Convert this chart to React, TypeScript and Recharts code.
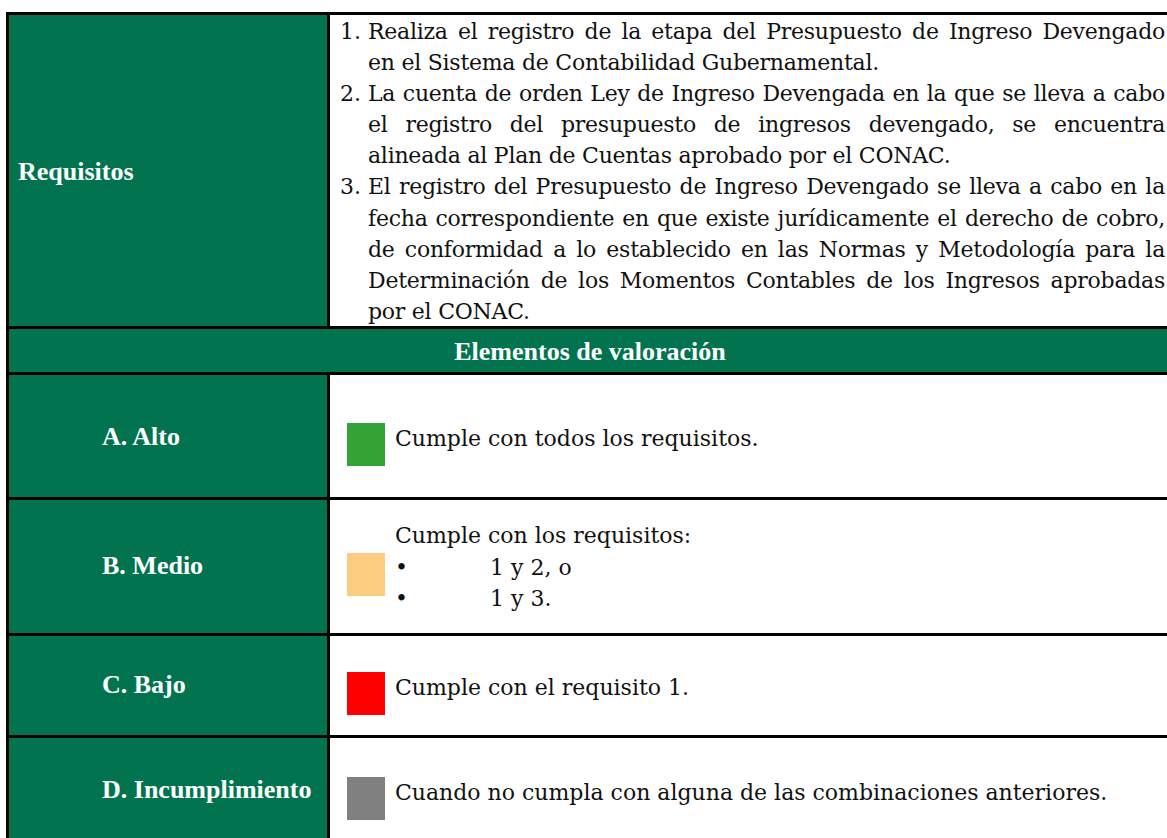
import React from "react";
import { Surface, Rectangle, Text } from "recharts";

const SECTION_TITLE = "Requisitos";
const HEADER_TITLE = "Elementos de valoración";

const REQ_NUMBERS = ["1.", "2.", "3."];
const REQ_LINES = [
  [
    "Realiza el registro de la etapa del Presupuesto de Ingreso Devengado",
    "en el Sistema de Contabilidad Gubernamental.",
  ],
  [
    "La cuenta de orden Ley de Ingreso Devengada en la que se lleva a cabo",
    "el registro del presupuesto de ingresos devengado, se encuentra",
    "alineada al Plan de Cuentas aprobado por el CONAC.",
  ],
  [
    "El registro del Presupuesto de Ingreso Devengado se lleva a cabo en la",
    "fecha correspondiente en que existe jurídicamente el derecho de cobro,",
    "de conformidad a lo establecido en las Normas y Metodología para la",
    "Determinación de los Momentos Contables de los Ingresos aprobadas",
    "por el CONAC.",
  ],
];

const LEVEL_LABELS = ["A. Alto", "B. Medio", "C. Bajo", "D. Incumplimiento"];
const LEVEL_COLORS = ["#34a336", "#fccd80", "#ff0000", "#808080"];
const LEVEL_TEXTS = [
  "Cumple con todos los requisitos.",
  "Cumple con los requisitos:",
  "Cumple con el requisito 1.",
  "Cuando no cumpla con alguna de las combinaciones anteriores.",
];
const MEDIO_BULLETS = ["1 y 2, o", "1 y 3."];

// layout
const W = 1167;
const H = 838;
const GREEN = "#01744f";
const B = 3; // border thickness
const LEFT = 6;
const RIGHT = 1172;
const COL = 327;
const ROW_BORDERS = [12, 326, 372, 497, 633, 735];
const BOTTOM = 900;
const SWATCH_Y = [423, 553, 672, 777];
const LABEL_BASE = [445, 574, 693, 798];
const TEXT_BASE = [446, 543, 695, 800];

const labelFont = { fontFamily: "'Liberation Serif', 'Times New Roman', serif", fontSize: 26, fontWeight: 700 };
const bodyFont = { fontFamily: "'DejaVu Serif', serif", fontSize: 22 };

export default function App() {
  const rowTop = (i: number) => ROW_BORDERS[i] + B;
  const rowBottom = (i: number) => (i + 1 < ROW_BORDERS.length ? ROW_BORDERS[i + 1] : BOTTOM);

  return (
    <div style={{ position: "relative", width: W, height: H, overflow: "hidden", background: "#fff" }}>
      <style>{`body{margin:0}`}</style>
      <Surface width={W} height={H} style={{ position: "absolute", left: 0, top: 0 }}>
        {/* table frame */}
        <Rectangle x={LEFT} y={ROW_BORDERS[0]} width={RIGHT - LEFT + B} height={BOTTOM - ROW_BORDERS[0]} fill="#000" />
        {ROW_BORDERS.map((_, i) =>
          i === 1 ? (
            <Rectangle key={i} x={LEFT + B} y={rowTop(i)} width={RIGHT - LEFT - B} height={rowBottom(i) - rowTop(i)} fill={GREEN} />
          ) : (
            <g key={i}>
              <Rectangle x={LEFT + B} y={rowTop(i)} width={COL - LEFT - B} height={rowBottom(i) - rowTop(i)} fill={GREEN} />
              <Rectangle x={COL + B} y={rowTop(i)} width={RIGHT - COL - B} height={rowBottom(i) - rowTop(i)} fill="#fff" />
            </g>
          )
        )}

        <Text x={18} y={180} fill="#fff" {...labelFont}>
          {SECTION_TITLE}
        </Text>
        <Text x={590} y={360} textAnchor="middle" fill="#fff" {...labelFont}>
          {HEADER_TITLE}
        </Text>

        {LEVEL_LABELS.map((label, i) => (
          <g key={label}>
            <Text x={102} y={LABEL_BASE[i]} fill="#fff" {...labelFont}>
              {label}
            </Text>
            <Rectangle x={347} y={SWATCH_Y[i]} width={38} height={43} fill={LEVEL_COLORS[i]} />
            <Text x={395} y={TEXT_BASE[i]} fill="#111" {...bodyFont}>
              {LEVEL_TEXTS[i]}
            </Text>
          </g>
        ))}
        {MEDIO_BULLETS.map((b, j) => (
          <g key={b}>
            <Text x={395} y={TEXT_BASE[1] + 32 + j * 31} fill="#111" {...bodyFont}>
              •
            </Text>
            <Text x={490} y={TEXT_BASE[1] + 32 + j * 31} fill="#111" {...bodyFont}>
              {b}
            </Text>
          </g>
        ))}
      </Surface>

      <div
        style={{
          position: "absolute",
          left: 340,
          top: 16,
          width: 825,
          ...bodyFont,
          fontSize: 22,
          lineHeight: "31.1px",
          letterSpacing: "-0.25px",
          color: "#111",
        }}
      >
        {REQ_NUMBERS.map((num, i) => (
          <div key={num} style={{ display: "flex" }}>
            <div style={{ width: 28, flex: "none", letterSpacing: 0 }}>{num}</div>
            <div style={{ width: 797 }}>
              {REQ_LINES[i].map((line, j) => {
                const last = j === REQ_LINES[i].length - 1;
                return (
                  <div
                    key={j}
                    style={{ textAlign: last ? "left" : "justify", textAlignLast: last ? "left" : "justify" }}
                  >
                    {line}
                  </div>
                );
              })}
            </div>
          </div>
        ))}
      </div>
    </div>
  );
}
